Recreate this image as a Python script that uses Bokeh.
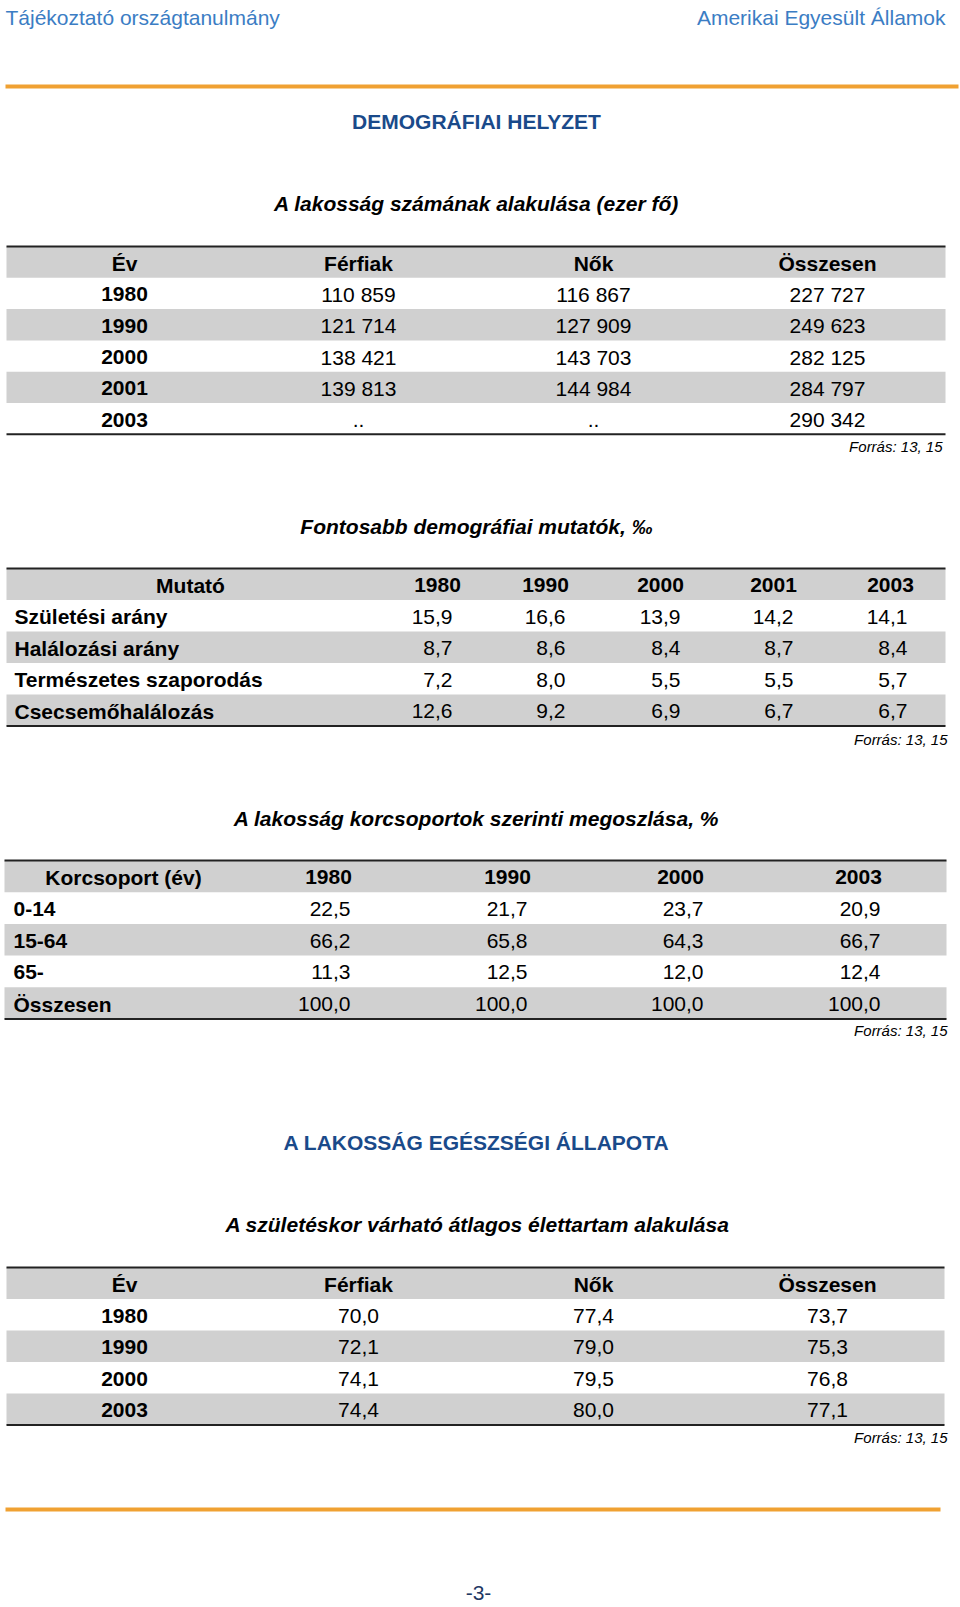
from bokeh.plotting import figure
from bokeh.models import Range1d
from bokeh.core.properties import value
from bokeh.embed import file_html
from bokeh.resources import INLINE

# ---------------- data ----------------
header_left = "Tájékoztató országtanulmány"
header_right = "Amerikai Egyesült Államok"
section1 = "DEMOGRÁFIAI HELYZET"
section2 = "A LAKOSSÁG EGÉSZSÉGI ÁLLAPOTA"
source_note = "Forrás: 13, 15"
page_no = "-3-"

t1_title = "A lakosság számának alakulása (ezer fő)"
t1_cols = ["Év", "Férfiak", "Nők", "Összesen"]
t1_years = ["1980", "1990", "2000", "2001", "2003"]
t1_men = [110859, 121714, 138421, 139813, None]
t1_women = [116867, 127909, 143703, 144984, None]
t1_total = [227727, 249623, 282125, 284797, 290342]

t2_title = "Fontosabb demográfiai mutatók, ‰"
t2_head = "Mutató"
t2_years = ["1980", "1990", "2000", "2001", "2003"]
t2_rows = ["Születési arány", "Halálozási arány", "Természetes szaporodás", "Csecsemőhalálozás"]
t2_birth = [15.9, 16.6, 13.9, 14.2, 14.1]
t2_death = [8.7, 8.6, 8.4, 8.7, 8.4]
t2_natural = [7.2, 8.0, 5.5, 5.5, 5.7]
t2_infant = [12.6, 9.2, 6.9, 6.7, 6.7]

t3_title = "A lakosság korcsoportok szerinti megoszlása, %"
t3_head = "Korcsoport (év)"
t3_years = ["1980", "1990", "2000", "2003"]
t3_groups = ["0-14", "15-64", "65-", "Összesen"]
t3_1980 = [22.5, 66.2, 11.3, 100.0]
t3_1990 = [21.7, 65.8, 12.5, 100.0]
t3_2000 = [23.7, 64.3, 12.0, 100.0]
t3_2003 = [20.9, 66.7, 12.4, 100.0]

t4_title = "A születéskor várható átlagos élettartam alakulása"
t4_cols = ["Év", "Férfiak", "Nők", "Összesen"]
t4_years = ["1980", "1990", "2000", "2003"]
t4_men = [70.0, 72.1, 74.1, 74.4]
t4_women = [77.4, 79.0, 79.5, 80.0]
t4_total = [73.7, 75.3, 76.8, 77.1]

# ---------------- helpers ----------------
FONT = "Liberation Sans"
GRAY = "#d0d0d0"
ORANGE = "#f0a132"
LIGHTBLUE = "#3b7dc4"
DARKBLUE = "#1a4a8a"
FS = "21px"


def fmt_int(v):
    return ".." if v is None else f"{v:,}".replace(",", " ")


def fmt_dec(v):
    return f"{v:.1f}".replace(".", ",")


W, H = 960, 1607
p = figure(width=W, height=H, output_backend="svg", toolbar_location=None,
           x_range=Range1d(0, W), y_range=Range1d(H, 0),
           min_border=0, outline_line_color=None)
p.axis.visible = False
p.grid.visible = False
p.background_fill_color = "white"


def txt(xs, ys, texts, size=FS, style="normal", align="center", color="black"):
    p.text(x=xs, y=ys, text=texts, text_font=value(FONT), text_font_size=size,
           text_font_style=style, text_align=align, text_baseline="middle",
           text_color=color)


def table_bands(top, rowh, nrows, left=6, right=945):
    # header + nrows body rows; header gray, body alternates white/gray
    tops, bots = [top], [top + rowh]
    for i in range(nrows):
        if i % 2 == 1:
            tops.append(top + (i + 1) * rowh)
            bots.append(top + (i + 2) * rowh)
    p.quad(left=left, right=right, top=tops, bottom=bots, fill_color=GRAY, line_color=None)
    bottom = top + (nrows + 1) * rowh
    p.segment(x0=[left, left], x1=[right, right], y0=[top, bottom], y1=[top, bottom],
              line_color="#222222", line_width=2)
    return [top + (i + 0.5) * rowh + 1 for i in range(nrows + 1)]


# ---------------- page header ----------------
txt([5], [17], [header_left], align="left", color=LIGHTBLUE)
txt([945], [17], [header_right], align="right", color=LIGHTBLUE)
p.segment(x0=[5], x1=[958], y0=[86], y1=[86], line_color=ORANGE, line_width=4)
txt([476], [121], [section1], style="bold", color=DARKBLUE)

# ---------------- table 1 ----------------
txt([476], [203], [t1_title], style="bold italic")
ys = table_bands(246, 31.3, len(t1_years))
cx1 = [124, 358, 593, 827]
txt(cx1, [ys[0]] * 4, t1_cols, style="bold")
txt([cx1[0]] * len(t1_years), ys[1:], t1_years, style="bold")
txt([cx1[1]] * len(t1_years), ys[1:], [fmt_int(v) for v in t1_men])
txt([cx1[2]] * len(t1_years), ys[1:], [fmt_int(v) for v in t1_women])
txt([cx1[3]] * len(t1_years), ys[1:], [fmt_int(v) for v in t1_total])
txt([942], [446], [source_note], size="15px", style="italic", align="right")

# ---------------- table 2 ----------------
txt([476], [526], [t2_title], style="bold italic")
ys = table_bands(568, 31.5, len(t2_rows))
hx2 = [437, 545, 660, 773, 890]
rx2 = [452, 565, 680, 793, 907]
txt([190], [ys[0]], [t2_head], style="bold")
txt(hx2, [ys[0]] * len(t2_years), t2_years, style="bold")
txt([14] * len(t2_rows), ys[1:], t2_rows, style="bold", align="left")
for i, row in enumerate([t2_birth, t2_death, t2_natural, t2_infant]):
    txt(rx2, [ys[i + 1]] * len(row), [fmt_dec(v) for v in row], align="right")
txt([947], [739], [source_note], size="15px", style="italic", align="right")

# ---------------- table 3 ----------------
txt([476], [818], [t3_title], style="bold italic")
ys = table_bands(860, 31.7, len(t3_groups), left=4, right=946)
hx3 = [328, 507, 680, 858]
rx3 = [350, 527, 703, 880]
txt([123], [ys[0]], [t3_head], style="bold")
txt(hx3, [ys[0]] * len(t3_years), t3_years, style="bold")
txt([13] * len(t3_groups), ys[1:], t3_groups, style="bold", align="left")
for j, col in enumerate([t3_1980, t3_1990, t3_2000, t3_2003]):
    txt([rx3[j]] * len(col), ys[1:], [fmt_dec(v) for v in col], align="right")
txt([947], [1030], [source_note], size="15px", style="italic", align="right")

# ---------------- section 2 / table 4 ----------------
txt([476], [1142], [section2], style="bold", color=DARKBLUE)
txt([477], [1224], [t4_title], style="bold italic")
ys = table_bands(1267, 31.5, len(t4_years), left=6, right=944)
txt(cx1, [ys[0]] * 4, t4_cols, style="bold")
txt([cx1[0]] * len(t4_years), ys[1:], t4_years, style="bold")
txt([cx1[1]] * len(t4_years), ys[1:], [fmt_dec(v) for v in t4_men])
txt([cx1[2]] * len(t4_years), ys[1:], [fmt_dec(v) for v in t4_women])
txt([cx1[3]] * len(t4_years), ys[1:], [fmt_dec(v) for v in t4_total])
txt([947], [1437], [source_note], size="15px", style="italic", align="right")

# ---------------- footer ----------------
p.segment(x0=[5], x1=[940], y0=[1509], y1=[1509], line_color=ORANGE, line_width=4)
txt([478], [1592], [page_no], color="#1f3864")

open("out.html", "w").write(file_html(p, INLINE))
